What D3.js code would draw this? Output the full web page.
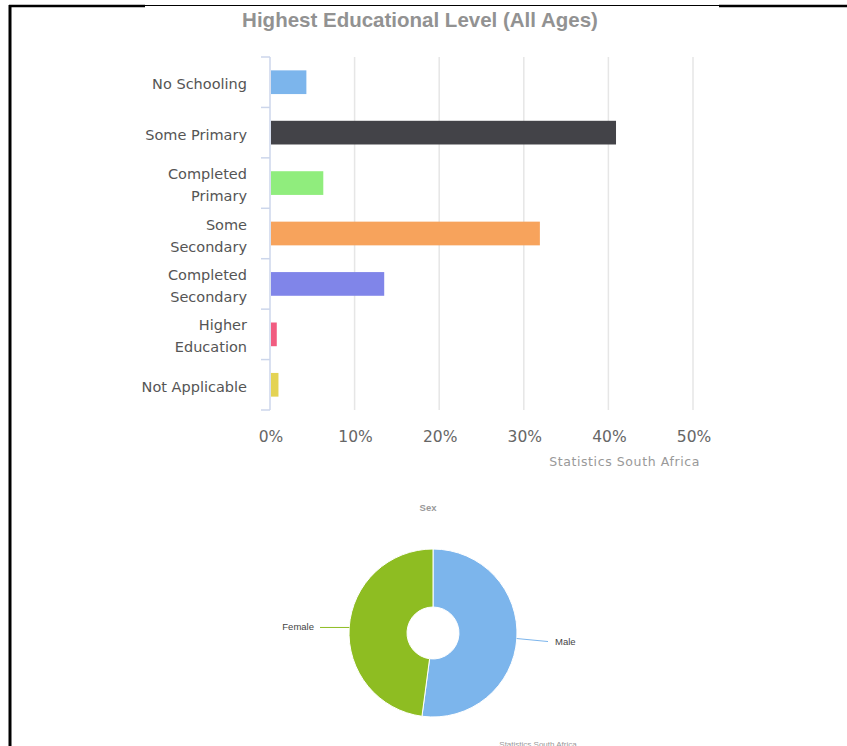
<!DOCTYPE html>
<html>
<head>
<meta charset="utf-8">
<script src="https://cdn.jsdelivr.net/npm/d3@7"></script>
<style>
  body { margin: 0; background: #fff; }
  svg { display: block; }
</style>
</head>
<body>
<div id="chart"></div>
<script>
// education levels, % of population
var levels = ["No Schooling", "Some Primary", "Completed Primary", "Some Secondary",
  "Completed Secondary", "Higher Education", "Not Applicable"];
var levelShares = [4.3, 40.9, 6.3, 31.9, 13.5, 0.8, 1.0];
var levelColors = ["#7cb5ec", "#434348", "#90ed7d", "#f7a35c", "#8085e9", "#f15c80", "#e4d354"];
var pctTicks = [0, 10, 20, 30, 40, 50];

// sex split
var sexes = ["Male", "Female"];
var sexShares = [52.1, 47.9];
var sexColors = ["#7cb5ec", "#8ebd22"];

var W = 847, H = 746;
var svg = d3.select("#chart").append("svg").attr("width", W).attr("height", H);

// frame
svg.append("line").attr("x1", 10).attr("x2", 10).attr("y1", 5).attr("y2", H)
  .attr("stroke", "#000").attr("stroke-width", 3);
svg.append("line").attr("x1", 9).attr("x2", 145).attr("y1", 6).attr("y2", 6)
  .attr("stroke", "#000").attr("stroke-width", 2.5);
svg.append("line").attr("x1", 145).attr("x2", 719).attr("y1", 5.5).attr("y2", 5.5)
  .attr("stroke", "#000").attr("stroke-width", 1);
svg.append("line").attr("x1", 719).attr("x2", W).attr("y1", 6).attr("y2", 6)
  .attr("stroke", "#000").attr("stroke-width", 2.5);

// ---- bar chart ----
var x = d3.scaleLinear().domain([0, 50]).range([270, 693]);
var y = d3.scaleBand().domain(levels).range([57, 410]).paddingInner(0.53).paddingOuter(0.265);

svg.append("text")
  .attr("x", 420).attr("y", 27)
  .attr("text-anchor", "middle")
  .attr("font-family", "Liberation Sans, Arial, sans-serif")
  .attr("font-weight", "bold")
  .attr("font-size", 20.5)
  .attr("fill", "#929292")
  .text("Highest Educational Level (All Ages)");

// grid
svg.append("g").selectAll("line")
  .data(pctTicks.slice(1))
  .join("line")
  .attr("x1", d => x(d)).attr("x2", d => x(d))
  .attr("y1", 57).attr("y2", 410)
  .attr("stroke", "#e6e6e6").attr("stroke-width", 1.5);

// bars
svg.append("g").selectAll("rect")
  .data(levels)
  .join("rect")
  .attr("x", x(0) + 1)
  .attr("y", d => y(d))
  .attr("width", (d, i) => x(levelShares[i]) - x(0) - 1)
  .attr("height", y.bandwidth())
  .attr("fill", (d, i) => levelColors[i]);

// y axis line + boundary ticks
var bounds = d3.range(levels.length + 1).map(i => 57 + i * (353 / levels.length));
svg.append("line").attr("x1", 270).attr("x2", 270).attr("y1", 57).attr("y2", 410)
  .attr("stroke", "#ccd6eb").attr("stroke-width", 1.5);
svg.append("g").selectAll("line")
  .data(bounds)
  .join("line")
  .attr("x1", 261).attr("x2", 270)
  .attr("y1", d => d).attr("y2", d => d)
  .attr("stroke", "#ccd6eb").attr("stroke-width", 1.5);

// category labels (wrapped to two lines)
var wrapped = {
  "Completed Primary": ["Completed", "Primary"],
  "Some Secondary": ["Some", "Secondary"],
  "Completed Secondary": ["Completed", "Secondary"],
  "Higher Education": ["Higher", "Education"]
};
var labG = svg.append("g")
  .attr("font-family", "DejaVu Sans, Verdana, sans-serif")
  .attr("font-size", 14.5)
  .attr("fill", "#555")
  .attr("text-anchor", "end");
levels.forEach(function(lv) {
  var lines = wrapped[lv] || [lv];
  var cy = y(lv) + y.bandwidth() / 2;
  var t = labG.append("text").attr("x", 247).attr("y", cy - (lines.length - 1) * 11 + 7);
  lines.forEach(function(s, i) {
    t.append("tspan").attr("x", 247).attr("dy", i === 0 ? 0 : 22).text(s);
  });
});

// x tick labels
svg.append("g").selectAll("text")
  .data(pctTicks)
  .join("text")
  .attr("x", d => x(d) + 1).attr("y", 442)
  .attr("text-anchor", "middle")
  .attr("font-family", "DejaVu Sans, Verdana, sans-serif")
  .attr("font-size", 15.5)
  .attr("fill", "#666")
  .text(d => d + "%");

svg.append("text")
  .attr("x", 700).attr("y", 466)
  .attr("text-anchor", "end")
  .attr("font-family", "DejaVu Sans, Verdana, sans-serif")
  .attr("font-size", 12.5)
  .attr("letter-spacing", 0.6)
  .attr("fill", "#999")
  .text("Statistics South Africa");

// ---- pie chart ----
var cx = 433, cy = 633, R = 84, r0 = 26;
svg.append("text")
  .attr("x", 428).attr("y", 511)
  .attr("text-anchor", "middle")
  .attr("font-family", "Liberation Sans, Arial, sans-serif")
  .attr("font-weight", "bold")
  .attr("font-size", 9.5)
  .attr("fill", "#999")
  .text("Sex");

var pie = d3.pie().sort(null).value(d => d)(sexShares);
var arc = d3.arc().innerRadius(r0).outerRadius(R);
var pg = svg.append("g").attr("transform", "translate(" + cx + "," + cy + ")");
pg.selectAll("path")
  .data(pie)
  .join("path")
  .attr("d", arc)
  .attr("fill", (d, i) => sexColors[i])
  .attr("stroke", "#fff")
  .attr("stroke-width", 1);

// connectors and labels
pie.forEach(function(p, i) {
  var a = (p.startAngle + p.endAngle) / 2;
  var px = Math.sin(a) * R, py = -Math.cos(a) * R;
  var right = px > 0;
  var ex = right ? 115 : -113;
  var ey = py + (right ? 3 : 0);
  pg.append("line")
    .attr("x1", px).attr("y1", py)
    .attr("x2", ex).attr("y2", ey)
    .attr("stroke", sexColors[i]).attr("stroke-width", 1);
  pg.append("text")
    .attr("x", right ? ex + 7 : ex - 6)
    .attr("y", ey + 3)
    .attr("text-anchor", right ? "start" : "end")
    .attr("font-family", "Liberation Sans, Arial, sans-serif")
    .attr("font-size", 9.5)
    .attr("fill", "#444")
    .text(sexes[i]);
});

svg.append("text")
  .attr("x", 538).attr("y", 747)
  .attr("text-anchor", "middle")
  .attr("font-family", "Liberation Sans, Arial, sans-serif")
  .attr("font-size", 8)
  .attr("fill", "#999")
  .text("Statistics South Africa");
</script>
</body>
</html>
